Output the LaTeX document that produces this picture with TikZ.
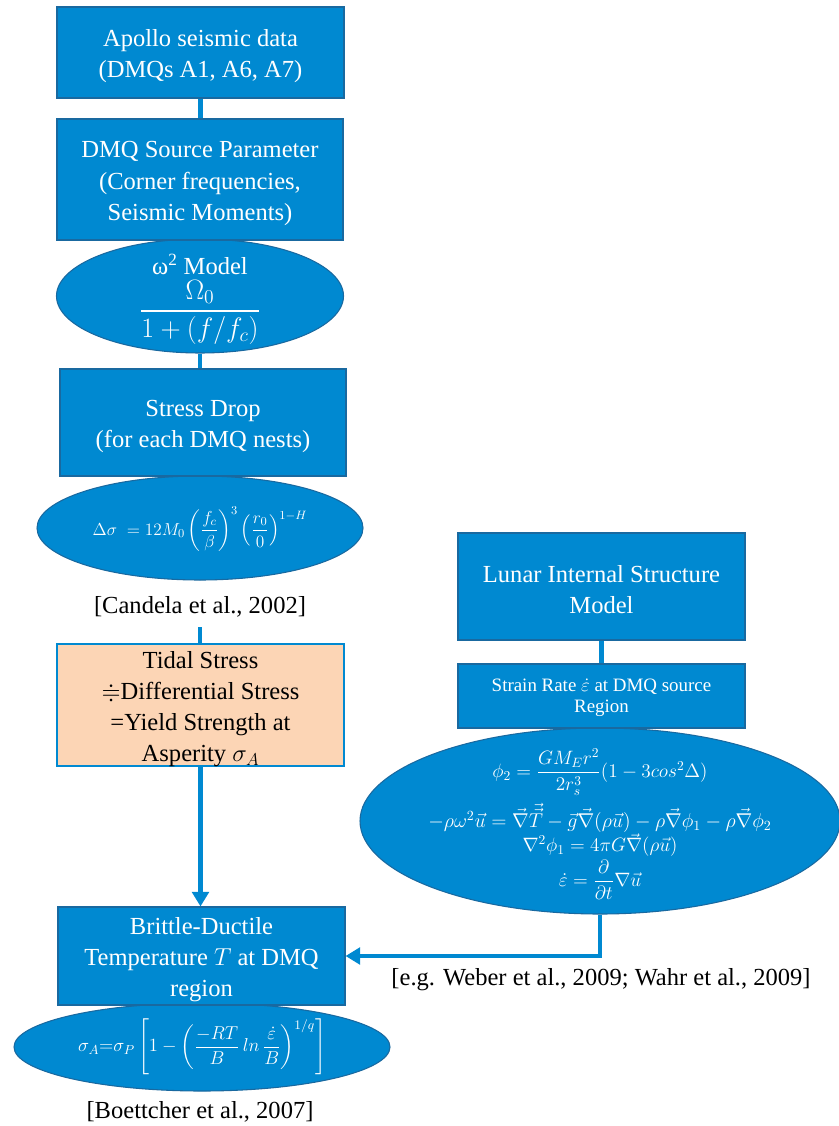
\RequirePackage{fix-cm}
\documentclass[tikz,border=0pt]{standalone}
\usepackage{amsmath,amssymb}
\usepackage{fontspec}
\setmainfont{Liberation Serif}
\usetikzlibrary{arrows.meta,shapes.geometric}
\definecolor{boxblue}{RGB}{0,137,209}
\definecolor{edgeblue}{RGB}{25,105,160}
\definecolor{peach}{RGB}{252,213,181}
\tikzset{
  bx/.style={draw=edgeblue, line width=0.8pt, fill=boxblue, inner sep=0pt},
  btext/.style={text=white, inner sep=0pt, align=center, font=\fontsize{18.4}{23.3}\selectfont},
  ell/.style={ellipse, draw=edgeblue, line width=0.8pt, fill=boxblue, inner sep=0pt},
  etext/.style={text=white, inner sep=0pt, align=center},
  cite/.style={inner sep=0pt, font=\fontsize{18.4}{23.3}\selectfont},
  conn/.style={draw=boxblue, line width=3.6pt},
  arr/.style={conn, -{Triangle[width=12.5pt,length=11pt]}}
}
\begin{document}
\begin{tikzpicture}[x=0.75pt,y=-0.75pt]
\useasboundingbox (0,0) rectangle (838,1126);
% ellipses (behind the boxes)
\node[ell, minimum width=215.25pt, minimum height=85.5pt] (omegaell) at (200,296) {};
\node[ell, minimum width=244.5pt, minimum height=78pt] (dsigell) at (200,528) {};
\node[ell, minimum width=282pt, minimum height=66pt] (sigAell) at (202,1047) {};
\node[ell, minimum width=360pt, minimum height=139.5pt] (lunarell) at (600,821) {};
% boxes
\node[bx, minimum width=215.25pt, minimum height=68.25pt] (apollo) at (200.5,52.5) {};
\node[bx, minimum width=214.5pt, minimum height=90.75pt] (dmq) at (200,179.5) {};
\node[bx, minimum width=214.5pt, minimum height=80.25pt] (stress) at (203,422.5) {};
\node[bx, draw=boxblue, fill=peach, minimum width=215.25pt, minimum height=91.5pt] (tidal) at (200.5,705) {};
\node[bx, minimum width=215.25pt, minimum height=73.5pt] (brittle) at (201.5,956) {};
\node[bx, minimum width=215.25pt, minimum height=80.25pt] (lunar) at (601.5,586.5) {};
\node[bx, minimum width=215.25pt, minimum height=48pt] (strain) at (601.5,696) {};
% box texts
\node[btext] (apollotxt) at ([yshift=-3pt]apollo.center) {Apollo seismic data\\(DMQs A1, A6, A7)};
\node[btext] (dmqtxt) at ([yshift=-3pt]dmq.center) {DMQ Source Parameter\\(Corner frequencies,\\Seismic Moments)};
\node[btext] (stresstxt) at ([yshift=-3pt]stress.center) {Stress Drop\\(for each DMQ nests)};
\node[btext, text=black] (tidaltxt) at ([yshift=-3pt]tidal.center) {Tidal Stress\\$\doteqdot$Differential Stress\\=Yield Strength at\\Asperity $\sigma_A$};
\node[btext] (brittletxt) at ([yshift=-3pt]brittle.center) {Brittle-Ductile\\Temperature $T$ at DMQ\\region};
\node[btext] (lunartxt) at ([yshift=-2pt]lunar.center) {Lunar Internal Structure\\Model};
\node[btext, font=\fontsize{14.2}{16}\selectfont] (straintxt) at ([yshift=-1.5pt]strain.center) {Strain Rate $\dot\varepsilon$ at DMQ source\\Region};
% ellipse contents
\node[etext, font=\fontsize{18.4}{21}\selectfont] (omegatxt) at (200,264) {ω\textsuperscript{2} Model};
\node[etext, font=\fontsize{21}{24}\selectfont] (omegafrac) at (200,312) {$\dfrac{\Omega_0}{1+(f/f_c)}$};
\node[etext, font=\fontsize{13}{15}\selectfont] (dsigtxt) at (200,529) {$\Delta\sigma\;=12M_0\left(\dfrac{f_c}{\beta}\right)^3\left(\dfrac{r_0}{0}\right)^{1-H}$};
\node[etext, font=\fontsize{14}{17}\selectfont] (sigAtxt) at (202,1047) {$\sigma_A{=}\sigma_P\left[1-\left(\dfrac{-RT}{B}\,ln\,\dfrac{\dot\varepsilon}{B}\right)^{1/q}\right]$};
\node[etext, font=\fontsize{14.5}{17}\selectfont] (lunar1) at (600,772) {$\phi_2=\dfrac{GM_Er^2}{2r_s^3}(1-3cos^2\Delta)$};
\node[etext, font=\fontsize{15}{17}\selectfont] (lunar2) at (600,818) {$-\rho\omega^2\vec u=\vec\nabla\vec{\vec T}-\vec g\vec\nabla(\rho\vec u)-\rho\vec\nabla\phi_1-\rho\vec\nabla\phi_2$};
\node[etext, font=\fontsize{14.5}{17}\selectfont] (lunar3) at (600,845) {$\nabla^2\phi_1=4\pi G\vec\nabla(\rho\vec u)$};
\node[etext, font=\fontsize{14.5}{17}\selectfont] (lunar4) at (600,880) {$\dot\varepsilon=\dfrac{\partial}{\partial t}\nabla\vec u$};
% citations
\node[cite] (candela) at (200,607) {[Candela et al., 2002]};
\node[cite] (boettcher) at (200,1112) {[Boettcher et al., 2007]};
\node[cite] (weber) at (601,980) {[e.g. Weber et al., 2009; Wahr et al., 2009]};
% connectors
\draw[conn] (apollo.south) -- (apollo.south |- dmq.north);
\draw[conn] (omegaell.south) -- (omegaell.south |- stress.north);
\draw[conn, shorten <=7pt] (candela.south) -- (candela.south |- tidal.north);
\draw[arr] (tidal.south) -- (tidal.south |- brittle.north);
\draw[conn] (lunar.south) -- (strain.north);
\draw[arr] (lunarell.south) |- (brittle.east);
\end{tikzpicture}
\end{document}
